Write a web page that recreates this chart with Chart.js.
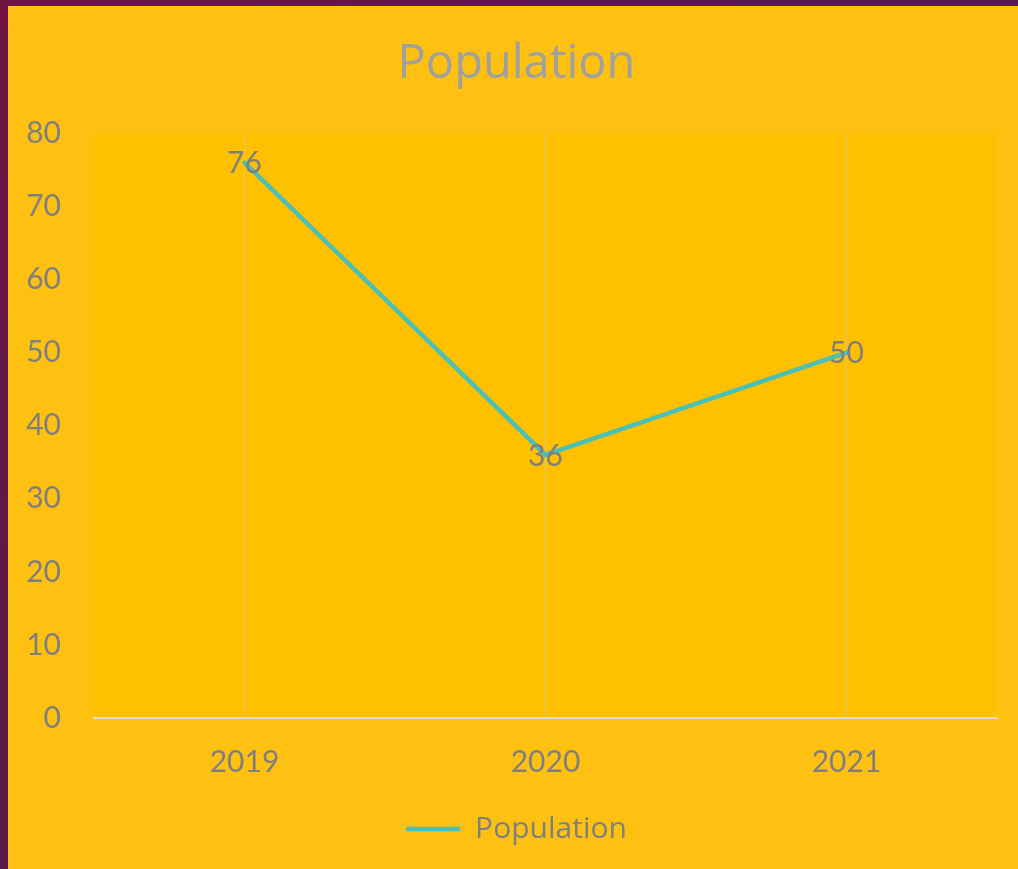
<!DOCTYPE html>
<html>
<head>
<meta charset="utf-8">
<script src="https://cdn.jsdelivr.net/npm/chart.js@4"></script>
<style>
  html, body { margin:0; padding:0; width:1018px; height:869px; overflow:hidden; }
  body { background: linear-gradient(135deg, #701442 0%, #5a1a46 40%, #4f1f4b 100%); position:relative; }
  #wrap { position:absolute; left:8px; top:6px; width:1010px; height:863px; }
</style>
</head>
<body>
<div id="wrap"><canvas id="c" width="1010" height="863"></canvas></div>
<script>
const categories = ['2019', '2020', '2021'];
const populationValues = [76, 36, 50];
const yTicks = [0, 10, 20, 30, 40, 50, 60, 70, 80];

const FONT = "Lato, 'Open Sans', sans-serif";
const TFONT = "'Open Sans', Lato, sans-serif";

const bgPlugin = {
  id: 'bg',
  beforeDraw(chart) {
    const {ctx, chartArea: a} = chart;
    ctx.save();
    ctx.fillStyle = '#FEC111';
    ctx.fillRect(0, 0, chart.width, chart.height);
    ctx.fillStyle = '#FFC000';
    ctx.fillRect(a.left, a.top, a.right - a.left, a.bottom - a.top);
    ctx.restore();
  }
};

const labelPlugin = {
  id: 'dataLabels',
  afterDatasetsDraw(chart) {
    const {ctx} = chart;
    chart.data.datasets.forEach((ds, i) => {
      const meta = chart.getDatasetMeta(i);
      ctx.save();
      ctx.font = "30px " + FONT;
      ctx.fillStyle = '#7F7F7F';
      ctx.textAlign = 'center';
      ctx.textBaseline = 'middle';
      meta.data.forEach((pt, j) => {
        ctx.fillText(String(ds.data[j]), pt.x, pt.y + 1);
      });
      ctx.restore();
    });
  }
};

new Chart(document.getElementById('c'), {
  type: 'line',
  data: {
    labels: categories,
    datasets: [{
      label: 'Population',
      data: populationValues,
      borderColor: '#4BC0B4',
      backgroundColor: '#4BC0B4',
      borderWidth: 4.5,
      borderCapStyle: 'round',
      pointRadius: 0,
      pointHoverRadius: 0,
      tension: 0,
      fill: false
    }]
  },
  options: {
    responsive: false,
    animation: false,
    events: [],
    layout: { padding: { top: 0, left: 7, right: 0, bottom: 15 } },
    scales: {
      x: {
        offset: true,
        grid: { offset: false, color: 'rgba(200,200,200,0.55)', lineWidth: 1, drawTicks: false },
        border: { display: true, color: '#E2DCCB', width: 2 },
        ticks: { color: '#7F7F7F', font: { family: FONT, size: 30 }, padding: 26 },
        afterFit(s) { s.height = 86; }
      },
      y: {
        min: 0, max: 80,
        afterBuildTicks(s) { s.ticks = yTicks.map(v => ({ value: v })); },
        grid: { display: false, drawTicks: false },
        border: { display: false },
        ticks: { color: '#7F7F7F', font: { family: FONT, size: 30 }, padding: 33 },
        afterFit(s) { s.width = 79; }
      },
      yRight: {
        position: 'right',
        display: true,
        min: 0, max: 80,
        grid: { display: false, drawTicks: false },
        border: { display: false },
        ticks: { display: false },
        afterFit(s) { s.width = 21; }
      }
    },
    plugins: {
      title: {
        display: true,
        text: 'Population',
        color: '#A0A0A0',
        font: { family: TFONT, size: 47, weight: 'normal' },
        padding: { top: 30, bottom: 41 }
      },
      legend: {
        display: true,
        position: 'bottom',
        labels: {
          color: '#7F7F7F',
          font: { family: TFONT, size: 30 },
          usePointStyle: true,
          pointStyle: 'line',
          pointStyleWidth: 54,
          boxHeight: 4,
          padding: 10
        }
      },
      tooltip: { enabled: false }
    }
  },
  plugins: [bgPlugin, labelPlugin]
});
</script>
</body>
</html>
